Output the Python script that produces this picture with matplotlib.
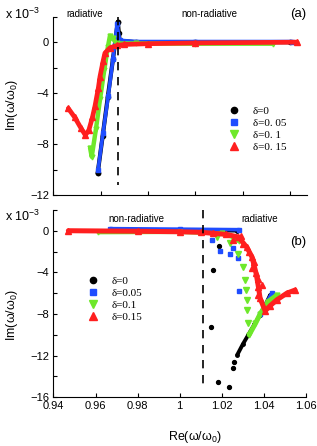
import numpy as np
import matplotlib
matplotlib.use("Agg")
import matplotlib.pyplot as plt
from matplotlib.ticker import FixedLocator

# --- Data (Re and Im of omega/omega_0, Im in units of 1e-3) ---
# Panel (a)
black_a_x = [0.9587, 0.9608, 0.9630, 0.9652, 0.9672, 0.9680, 0.9750, 1.0000, 1.0400]
black_a_y = [-10.3, -7.4, -4.3, -1.3, 1.6, 0.1, 0.0, 0.0, 0.0]
black_a_dot_x = [0.9587, 0.9672, 0.9678]
black_a_dot_y = [-10.3, 1.6, 0.75]

blue_a_x = [0.9589, 0.9610, 0.9632, 0.9652, 0.9669, 0.9680, 0.9750, 1.0000, 1.0410]
blue_a_y = [-10.0, -7.1, -4.2, -1.3, 1.4, 0.15, 0.05, 0.05, 0.05]

green_a_x = [0.9555, 0.9562, 0.9580, 0.9597, 0.9615, 0.9630, 0.9639, 0.9650, 0.9668, 0.9750, 1.0000, 1.0330]
green_a_y = [-8.3, -9.0, -6.8, -4.5, -2.2, -0.4, 0.5, 0.3, -0.1, -0.1, -0.12, -0.12]

red_a_x = [0.9463, 0.9490, 0.9515, 0.9535, 0.9550, 0.9565, 0.9576, 0.9590, 0.9597, 0.9610,
           0.9618, 0.9639, 0.9670, 0.9700, 0.9800, 1.0000, 1.0430]
red_a_y = [-5.2, -5.9, -6.7, -7.3, -6.9, -5.9, -5.0, -3.6, -2.7, -1.5,
           -0.85, -0.45, -0.25, -0.18, -0.12, -0.06, 0.0]

# Panel (b)
black_b_x = [0.9700, 1.0000, 1.0270]
black_b_y = [0.05, 0.05, 0.0]
black_b_dot_x = [1.0189, 1.0160, 1.0148, 1.0181, 1.0236, 1.0252, 1.0260]
black_b_dot_y = [-1.5, -3.8, -9.2, -14.5, -15.0, -13.2, -12.6]
black_b_br_x = [1.0274, 1.0300, 1.0326, 1.0355, 1.0382, 1.0410, 1.0429]
black_b_br_y = [-11.9, -10.9, -10.0, -9.0, -8.1, -7.0, -6.2]

blue_b_x = [0.9670, 1.0000, 1.0284]
blue_b_y = [0.2, 0.15, 0.1]
blue_b_dot_x = [1.0152, 1.0192, 1.0239, 1.0255, 1.0279, 1.0284]
blue_b_dot_y = [-0.9, -1.9, -2.2, -1.7, -2.65, -5.76]
blue_b_br_x = [1.0380, 1.0410, 1.0438]
blue_b_br_y = [-8.0, -7.0, -5.95]

green_b_x = [0.9614, 1.0000, 1.0200, 1.0250, 1.0280]
green_b_y = [-0.15, -0.12, -0.25, -0.6, -1.0]
green_b_dot_x = [1.0176, 1.0239, 1.0279, 1.0303, 1.0311, 1.0314, 1.0319, 1.0322, 1.0326]
green_b_dot_y = [-0.6, -1.2, -2.2, -3.45, -4.7, -5.7, -6.65, -7.6, -8.9]
green_b_br_x = [1.0330, 1.0360, 1.0382, 1.0420, 1.0461]
green_b_br_y = [-10.0, -8.9, -8.0, -6.8, -6.2]

red_b_x = [0.9471, 0.9800, 1.0000, 1.0100, 1.0160, 1.0220, 1.0279, 1.0319, 1.0343, 1.0363,
           1.0374, 1.0382, 1.0406, 1.0430, 1.0461, 1.0509, 1.0548]
red_b_y = [0.0, -0.05, -0.1, -0.15, -0.25, -0.35, -0.6, -1.6, -2.5, -4.1,
           -5.4, -6.5, -7.7, -7.2, -6.65, -6.0, -5.7]
red_b_dot_x = [1.0255, 1.0300, 1.0330, 1.0355, 1.0370, 1.0345, 1.0390, 1.0372, 1.0290]
red_b_dot_y = [-0.9, -1.3, -2.0, -3.0, -4.6, -3.6, -5.2, -6.2, -0.5]

legend_labels_a = ["δ=0", "δ=0. 05", "δ=0. 1", "δ=0. 15"]
legend_labels_b = ["δ=0", "δ=0.05", "δ=0.1", "δ=0.15"]

BLACK = "#000000"
BLUE = "#1f4dff"
GREEN = "#6ee82a"
RED = "#ff1f1f"

plt.rcParams['font.family'] = ['Liberation Sans', 'DejaVu Sans']
plt.rcParams['mathtext.fontset'] = 'custom'
plt.rcParams['mathtext.rm'] = 'Liberation Sans'
plt.rcParams['mathtext.it'] = 'Liberation Sans'
plt.rcParams['mathtext.default'] = 'regular'

W, H = 317, 446
fig = plt.figure(figsize=(W / 100, H / 100), dpi=100)


def px(x, y):
    return x / W, 1 - y / H


ax_a = fig.add_axes([53.4 / W, 1 - 195 / H, 253.6 / W, 178.3 / H])
ax_b = fig.add_axes([53.4 / W, 1 - 397.3 / H, 252.6 / W, 187.4 / H])


def style_axes(ax, xlim, ylim, yticks, ylabels, xticklabels):
    ax.set_xlim(*xlim)
    ax.set_ylim(*ylim)
    for s in ['top', 'right']:
        ax.spines[s].set_visible(False)
    for s in ['left', 'bottom']:
        ax.spines[s].set_linewidth(0.8)
    ax.xaxis.set_major_locator(FixedLocator([0.94, 0.96, 0.98, 1.0, 1.02, 1.04, 1.06]))
    if xticklabels:
        ax.set_xticklabels(['0.94', '0.96', '0.98', '1', '1.02', '1.04', '1.06'])
    else:
        ax.set_xticklabels([])
    ax.set_yticks(yticks)
    ax.set_yticklabels(ylabels)
    ax.tick_params(direction='in', length=3, width=0.8, labelsize=8, pad=3)


def draw(ax, x, y, color, marker, lw, ms, z):
    ax.plot(x, y, color=color, lw=lw, marker=marker, ms=ms, mec=color,
            solid_capstyle='round', zorder=z)


def dots(ax, x, y, color, marker, ms, z):
    ax.plot(x, y, ls='none', color=color, marker=marker, ms=ms, mec=color, zorder=z)


# --- panel (a) ---
draw(ax_a, black_a_x, black_a_y, BLACK, 'o', 3.0, 3, 2)
dots(ax_a, black_a_dot_x, black_a_dot_y, BLACK, 'o', 3, 2)
draw(ax_a, blue_a_x, blue_a_y, BLUE, 's', 2.6, 2.5, 3)
draw(ax_a, green_a_x, green_a_y, GREEN, 'v', 3.2, 3.5, 4)
draw(ax_a, red_a_x, red_a_y, RED, '^', 3.4, 4, 5)
ax_a.plot([0.9672, 0.9672], [2, -11.2], color='black', lw=1.2, ls=(0, (5, 4)), zorder=6)

a_ticks = [-12, -10, -8, -6, -4, -2, 0, 2]
a_labels = ['−12', '', '−8', '', '−4', '', '0', '']
style_axes(ax_a, (0.94, 1.0472), (-12, 2), a_ticks, a_labels, False)

# --- panel (b) ---
draw(ax_b, black_b_x, black_b_y, BLACK, 'o', 2.6, 2.5, 2)
dots(ax_b, black_b_dot_x, black_b_dot_y, BLACK, 'o', 2.8, 2)
draw(ax_b, black_b_br_x, black_b_br_y, BLACK, 'o', 2.8, 2.5, 2)
draw(ax_b, blue_b_x, blue_b_y, BLUE, 's', 2.6, 2.5, 3)
dots(ax_b, blue_b_dot_x, blue_b_dot_y, BLUE, 's', 2.5, 3)
draw(ax_b, blue_b_br_x, blue_b_br_y, BLUE, 's', 2.4, 2.5, 3)
draw(ax_b, green_b_x, green_b_y, GREEN, 'v', 3.0, 3.5, 4)
dots(ax_b, green_b_dot_x, green_b_dot_y, GREEN, 'v', 3.8, 4)
draw(ax_b, green_b_br_x, green_b_br_y, GREEN, 'v', 3.6, 3.5, 4)
draw(ax_b, red_b_x, red_b_y, RED, '^', 3.6, 4, 5)
dots(ax_b, red_b_dot_x, red_b_dot_y, RED, '^', 4, 5)
ax_b.plot([1.0113, 1.0113], [2, -14.8], color='black', lw=1.2, ls=(0, (5, 4)), zorder=6)

b_ticks = [-16, -14, -12, -10, -8, -6, -4, -2, 0, 2]
b_labels = ['−16', '', '−12', '', '−8', '', '−4', '', '0', '']
style_axes(ax_b, (0.94, 1.06), (-16, 2), b_ticks, b_labels, True)

# --- legends (proxy handles, marker only) ---
serif = {'family': 'Liberation Serif', 'size': 8}


def add_legend(ax, labels, anchor):
    handles = [
        ax.plot([], [], ls='none', marker='o', ms=4.5, color=BLACK)[0],
        ax.plot([], [], ls='none', marker='s', ms=3.8, color=BLUE)[0],
        ax.plot([], [], ls='none', marker='v', ms=5.5, color=GREEN)[0],
        ax.plot([], [], ls='none', marker='^', ms=5.5, color=RED)[0],
    ]
    ax.legend(handles, labels, loc='upper left', bbox_to_anchor=anchor,
              bbox_transform=fig.transFigure, frameon=False, prop=serif,
              handlelength=1.0, handletextpad=1.2, labelspacing=0.2,
              borderpad=0, borderaxespad=0)


add_legend(ax_a, legend_labels_a, px(228.4, 106))
add_legend(ax_b, legend_labels_b, px(87.4, 276))

# --- texts ---
fig.text(*px(5, 14), r'x 10$^{-3}$', fontsize=9, va='center', ha='left')
fig.text(*px(5, 216), r'x 10$^{-3}$', fontsize=9, va='center', ha='left')
fig.text(*px(12, 105), r'Im($\omega/\omega_0$)', fontsize=9, rotation=90, va='center', ha='center')
fig.text(*px(12, 315), r'Im($\omega/\omega_0$)', fontsize=9, rotation=90, va='center', ha='center')
fig.text(*px(195, 437), r'Re($\omega/\omega_0$)', fontsize=9, va='center', ha='center')

fig.text(*px(85, 14), 'radiative', fontsize=7, va='center', ha='center')
fig.text(*px(209, 14), 'non-radiative', fontsize=7, va='center', ha='center')
fig.text(*px(298, 14), '(a)', fontsize=9.5, va='center', ha='center')
fig.text(*px(136, 219), 'non-radiative', fontsize=7, va='center', ha='center')
fig.text(*px(260, 219), 'radiative', fontsize=7, va='center', ha='center')
fig.text(*px(298, 242), '(b)', fontsize=9.5, va='center', ha='center')

fig.savefig('out.png', dpi=100)
